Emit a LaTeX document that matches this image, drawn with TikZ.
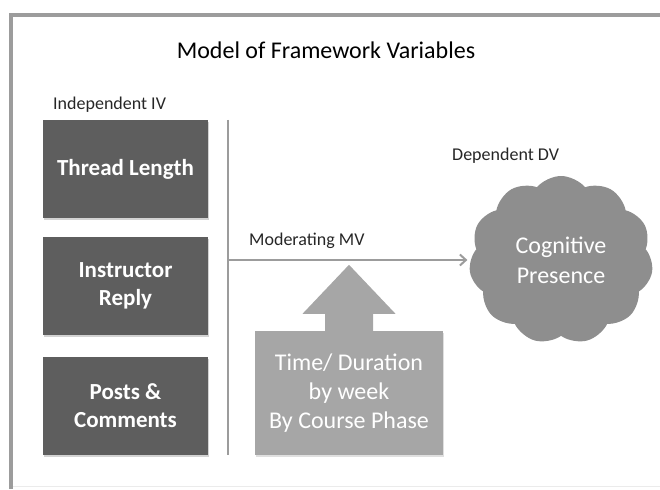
\documentclass[tikz,border=0pt]{standalone}
\usepackage{fontspec}
\setmainfont{Carlito}
\usetikzlibrary{arrows.meta,shapes.symbols,shadows,calc}
\definecolor{ivgray}{HTML}{5E5E5E}
\definecolor{mvgray}{HTML}{A6A6A6}
\definecolor{dvgray}{HTML}{8E8E8E}
\definecolor{rulegray}{HTML}{9C9C9C}

\begin{document}
\begin{tikzpicture}[x=1pt,y=-1pt,
    lbl/.style={text=black!85,font=\fontsize{18}{21}\selectfont,inner sep=0pt},
    ivbox/.style={fill=ivgray,text=white,align=center,minimum width=165pt,minimum height=98pt,
      font=\fontsize{23}{28}\bfseries\selectfont,drop shadow={shadow xshift=1pt,shadow yshift=-2pt,opacity=.35}},
    mvbox/.style={fill=mvgray,text=white,align=center,minimum width=188pt,minimum height=124pt,
      font=\fontsize{24}{29}\selectfont,drop shadow={shadow xshift=1pt,shadow yshift=-2pt,opacity=.25}},
    dvcloud/.style={cloud,cloud puffs=11,cloud puff arc=100,aspect=1.15,fill=dvgray,text=white,align=center,
      minimum width=184pt,minimum height=168pt,font=\fontsize{24}{30}\selectfont}]
  \useasboundingbox (0,0) rectangle (660,489);
  % frame
  \draw[rulegray,line width=4pt] (11,489) -- (11,15) -- (662,15);
  \draw[black!8,line width=1pt] (13,486) -- (662,486);

  \node[font=\fontsize{24}{28}\selectfont] (title) at (326,50) {Model of Framework Variables};
  \node[lbl,anchor=west] (ivlbl) at (53,105) {Independent IV};
  \node[lbl,anchor=west] (dvlbl) at (452,156) {Dependent DV};
  \node[lbl,anchor=west] (mvlbl) at (249,241) {Moderating MV};

  % independent variables
  \node[ivbox] (thread) at (125.5,169) {Thread Length};
  \node[ivbox] (reply) at (125.5,286) {Instructor\\Reply};
  \node[ivbox] (posts) at (125.5,406) {Posts \&\\Comments};

  % moderating
  \node[mvbox] (time) at (349,393) {Time/ Duration\\by week\\By Course Phase};
  \fill[mvgray] ([xshift=-24pt]time.north) -- ++(0,-17) -- ++(-22.5,0) -- ($(time.north)+(0,-66)$)
    -- ++(46.5,49) -- ++(-22.5,0) -- ([xshift=24pt]time.north) -- cycle;

  % dependent
  \node[dvcloud] (cog) at (561,260) {Cognitive\\Presence};

  % connectors
  \coordinate (vtop) at (228,120);
  \coordinate (vbot) at (228,455);
  \coordinate (vmid) at (228,260);
  \draw[rulegray,line width=2pt] (vtop) -- (vbot);
  \draw[rulegray,line width=2pt,-{Straight Barb[length=6pt,width=11pt]}] (vmid) -- ([xshift=-3pt]vmid -| cog.west);
\end{tikzpicture}
\end{document}
